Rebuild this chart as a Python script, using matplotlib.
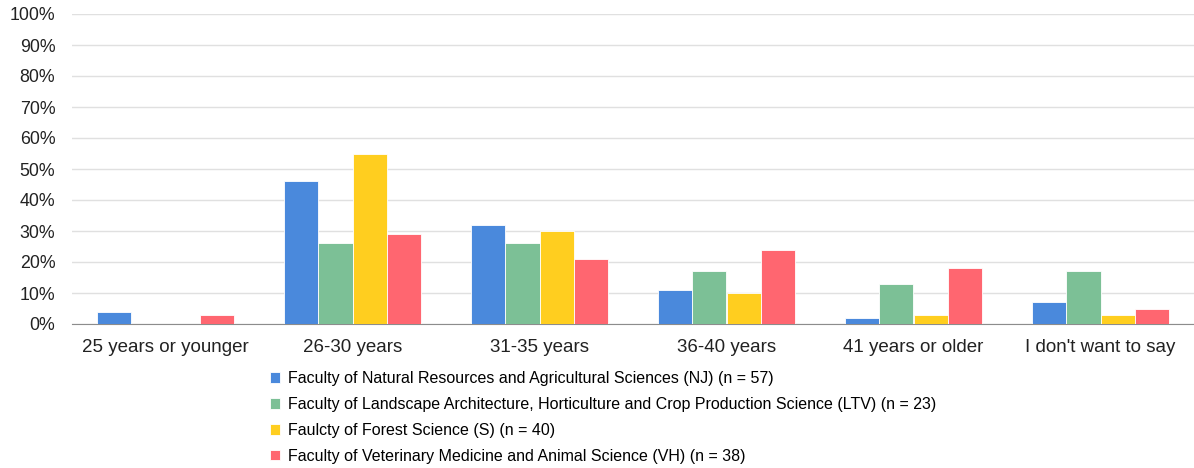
import numpy as np
import matplotlib.pyplot as plt

plt.rcParams['font.family'] = ['Liberation Sans', 'DejaVu Sans']

categories = ["25 years or younger", "26-30 years", "31-35 years",
              "36-40 years", "41 years or older", "I don't want to say"]
series_names = [
    "Faculty of Natural Resources and Agricultural Sciences (NJ) (n = 57)",
    "Faculty of Landscape Architecture, Horticulture and Crop Production Science (LTV) (n = 23)",
    "Faulcty of Forest Science (S) (n = 40)",
    "Faculty of Veterinary Medicine and Animal Science (VH) (n = 38)",
]
nj = [4, 46, 32, 11, 2, 7]
ltv = [0, 26, 26, 17, 13, 17]
s = [0, 55, 30, 10, 3, 3]
vh = [3, 29, 21, 24, 18, 5]

colors = ["#4a89dc", "#7cc096", "#ffce1f", "#ff6670"]

fig = plt.figure(figsize=(11.94, 4.68), dpi=100)
ax = fig.add_axes([72 / 1194, 1 - 324 / 468, 1122 / 1194, 310 / 468])

x = np.arange(len(categories))
width = 0.182
for i, (vals, name) in enumerate(zip([nj, ltv, s, vh], series_names)):
    offs = (i - 1.5) * width
    ax.bar(x + offs, vals, width, color=colors[i], edgecolor="white",
           linewidth=0.6, label=name, zorder=3)

ax.set_xlim(-0.5, len(categories) - 0.5)
ax.set_ylim(0, 100)
ax.set_yticks(range(0, 101, 10))
ax.set_yticklabels([f"{v}%" for v in range(0, 101, 10)], fontsize=12.8, color="#222222")
ax.set_xticks(x)
ax.set_xticklabels(categories, fontsize=13.5, color="#222222")
ax.tick_params(axis="both", length=0)
ax.tick_params(axis="x", pad=11)
ax.tick_params(axis="y", pad=12)
ax.grid(axis="y", color="#e0e0e0", linewidth=1, zorder=0)
for side in ["top", "right", "left"]:
    ax.spines[side].set_visible(False)
ax.spines["bottom"].set_color("#8c8c8c")

ax.legend(loc="upper left", bbox_to_anchor=(270 / 1194, 1 - 371 / 468),
          bbox_transform=fig.transFigure, frameon=False, fontsize=11.55,
          handlelength=0.65, handleheight=0.65, handletextpad=0.45,
          labelspacing=0.68, borderaxespad=0, borderpad=0)

fig.savefig("out.png", dpi=100)
